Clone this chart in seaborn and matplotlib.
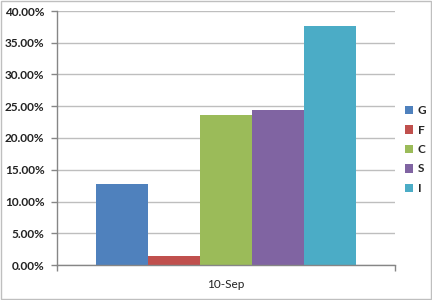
import matplotlib
matplotlib.use("Agg")
import matplotlib.pyplot as plt
import seaborn as sns
import pandas as pd
from matplotlib.patches import Rectangle, Patch
from matplotlib.ticker import PercentFormatter

categories = ["10-Sep"]
series = ["G", "F", "C", "S", "I"]
values = [12.75, 1.40, 23.65, 24.40, 37.60]
colors = ["#4F81BD", "#C0504D", "#9BBB59", "#8064A2", "#4BACC6"]
yticks = [0, 5, 10, 15, 20, 25, 30, 35, 40]

df = pd.DataFrame({"date": categories * len(series), "series": series, "value": values})

sns.set_theme(style="white")
plt.rcParams["font.family"] = ["Lato", "DejaVu Sans"]

fig = plt.figure(figsize=(4.32, 3.0), dpi=100)
ax = fig.add_axes([57 / 432, 35 / 300, 338 / 432, 254 / 300])

sns.barplot(data=df, x="date", y="value", hue="series", hue_order=series,
            palette=colors, width=0.77, gap=0, saturation=1, legend=False,
            ax=ax, linewidth=0, errorbar=None)

ax.set_xlim(-0.5, 0.5)
ax.set_ylim(0, 40)
ax.set_yticks(yticks)
ax.yaxis.set_major_formatter(PercentFormatter(decimals=2))
ax.yaxis.grid(True, color="#BEBEBE", linewidth=1)
ax.set_axisbelow(True)
ax.set_xlabel("")
ax.set_ylabel("")

ax.set_xticks([0])
ax.set_xticklabels(categories)
ax.set_xticks([-0.5, 0.5], minor=True)
ax.tick_params(axis="x", which="major", length=0, pad=10, labelsize=8.5, colors="#222222")
ax.tick_params(axis="x", which="minor", length=4, width=1, color="#868686", direction="out", bottom=True)
ax.tick_params(axis="y", length=4, width=1, color="#868686", direction="out", left=True,
               labelsize=8.5, labelcolor="#222222", pad=5)
for lab in ax.get_yticklabels():
    lab.set_fontweight("bold")

for side in ["top", "right"]:
    ax.spines[side].set_visible(False)
for side in ["left", "bottom"]:
    ax.spines[side].set_color("#868686")
    ax.spines[side].set_linewidth(1)

handles = [Patch(facecolor=c, edgecolor="none") for c in colors]
fig.legend(handles, series, loc="upper left", bbox_to_anchor=(405 / 432, 1 - 105 / 300),
           frameon=False, handlelength=0.7, handleheight=0.7, handletextpad=0.4,
           labelspacing=0.72, borderpad=0, borderaxespad=0,
           prop={"weight": "bold", "size": 8.5})

fig.patches.append(Rectangle((0.002, 0.003), 0.995, 0.994, transform=fig.transFigure,
                             fill=False, edgecolor="#BFBFBF", linewidth=1))

fig.savefig("out.png", dpi=100, facecolor="white")
